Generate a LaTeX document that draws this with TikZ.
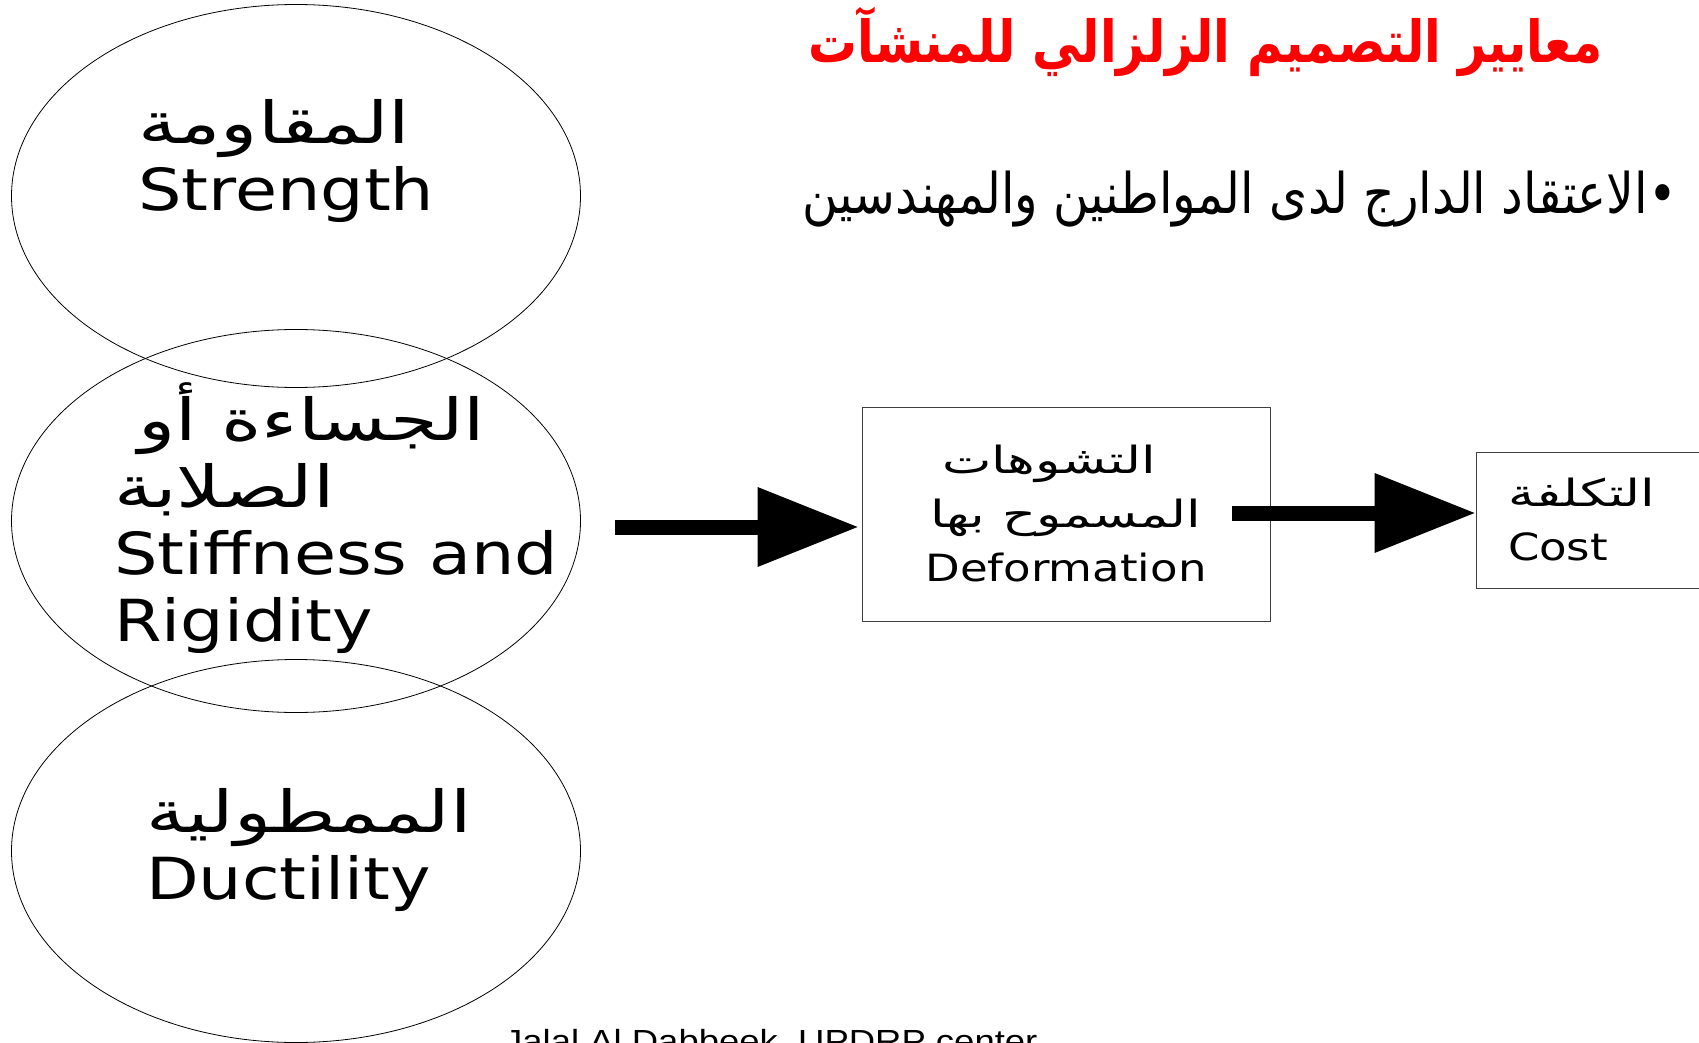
\documentclass[tikz,border=0pt]{standalone}
\usepackage{fontspec}
\usetikzlibrary{shapes.geometric,arrows.meta}
\TeXXeTstate=1
\setmainfont[FakeStretch=1.18]{DejaVu Sans}
\newfontfamily\arabicfont[Script=Arabic,FakeStretch=1.33]{DejaVu Sans}
\newfontfamily\boxfont[FakeStretch=1.2]{DejaVu Sans}
\newfontfamily\boxarabic[Script=Arabic,FakeStretch=1.4]{DejaVu Sans}
\newfontfamily\headfont[Script=Arabic,FakeStretch=0.84]{DejaVu Sans}
\newfontfamily\notefont[Script=Arabic,FakeStretch=0.87]{DejaVu Sans}
\newfontfamily\footfont[FakeStretch=1.14]{Liberation Sans}

\begin{document}
\begin{tikzpicture}[x=1pt, y=-1pt,
	oval/.style = {ellipse, draw, line width=0.8pt, minimum width=569pt, minimum height=383pt, inner sep=0pt},
	ovaltext/.style = {anchor=base west, align=left, inner sep=0pt, font=\fontsize{58}{67}\selectfont},
	frame/.style = {draw=black!75, line width=0.9pt, inner sep=0pt, font=\boxfont\fontsize{37.5}{54}\selectfont},
	bigarrow/.style = {line width=15pt, -{Triangle[length=100pt, width=80pt, line width=0pt]}},
	]
	\useasboundingbox (0,0) rectangle (1699,1043);

	% title and remark
	\node[anchor=base east, inner sep=0pt, text=red, font=\headfont\bfseries\fontsize{58}{66}\selectfont] (title) at (1603,63) {\beginR معايير التصميم الزلزالي للمنشآت\endR};
	\node[anchor=base east, inner sep=0pt, font=\notefont\fontsize{56}{64}\selectfont] (belief) at (1677,213) {\beginR •الاعتقاد الدارج لدى المواطنين والمهندسين\endR};

	% the three criteria
	\node[oval] (strength) at (296,196) {};
	\node[oval] (stiff) at (296,521) {};
	\node[oval] (duct) at (296,851) {};
	\node[ovaltext] (strengthtext) at (138,211) {{\arabicfont\beginR المقاومة\endR}\\Strength};
	\node[ovaltext] (stifftext) at (114,641) {\hspace{24pt}{\arabicfont\beginR الجساءة أو\endR}\\{\arabicfont\beginR الصلابة\endR}\\Stiffness and\\Rigidity};
	\node[ovaltext] (ducttext) at (146,899) {{\arabicfont\beginR الممطولية\endR}\\Ductility};

	% deformation and cost
	\node[frame, minimum width=408pt, minimum height=214pt, align=center] (deform) at (1066,514) {{\boxarabic\beginR التشوهات\endR}\rule{34pt}{0pt}\\{\boxarabic\beginR المسموح بها\endR}\\Deformation};
	\node[frame, minimum height=136pt, text width=200pt, inner xsep=32pt, align=left] (cost) at (1608,520) {{\boxarabic\beginR التكلفة\endR}\\Cost};

	\draw[bigarrow] ([xshift=34pt, yshift=-6pt]stiff.east) -- ([xshift=-4pt, yshift=-13pt]deform.west);
	\draw[bigarrow] ([xshift=-38pt, yshift=1pt]deform.east) -- ([xshift=-1pt, yshift=7pt]cost.west);

	\node[anchor=base west, inner sep=0pt, font=\footfont\fontsize{32}{38}\selectfont] (credit) at (504,1052) {Jalal Al Dabbeek, UPDRP center};
\end{tikzpicture}
\end{document}
